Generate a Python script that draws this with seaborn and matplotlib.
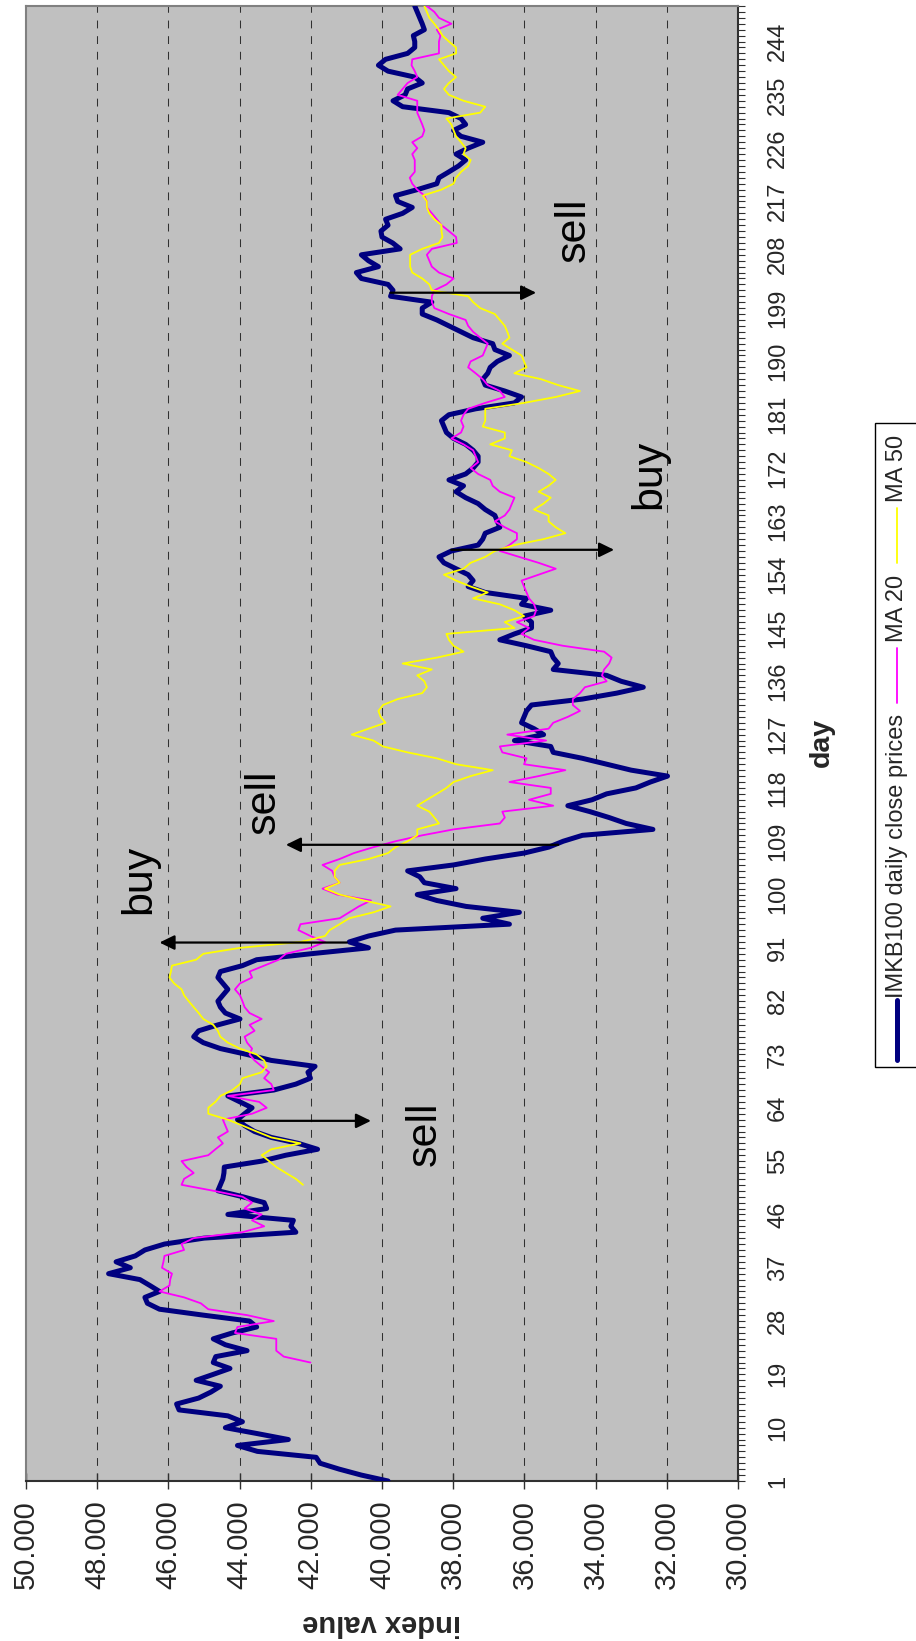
import matplotlib
matplotlib.use("Agg")
import matplotlib.pyplot as plt
from matplotlib.lines import Line2D
from matplotlib.patches import Rectangle
import seaborn as sns
import numpy as np

# ---------------- data ----------------
close_days = list(range(1, 251))
close_values = [
    39830, 40580, 41200, 41740, 41850, 43500, 44060, 42630, 43500, 44400,
    43920, 44330, 45700, 45770, 45150, 44810, 44540, 45220, 44740, 44270,
    44740, 44670, 43790, 44400, 44740, 44200, 43520, 43720, 45020, 46250,
    46590, 46660, 46250, 46520, 46800, 47680, 47070, 47470, 46930, 46660,
    46110, 45000, 42420, 42560, 42490, 44330, 43240, 43310, 43920, 44610,
    44540, 44470, 44440, 44430, 43380, 42700, 41810, 42350, 43110, 43580,
    43860, 44060, 43860, 43650, 43990, 44330, 43040, 42420, 42010, 42080,
    41880, 43110, 43790, 44540, 45020, 45290, 45150, 44610, 43990, 44400,
    44540, 44610, 44470, 44330, 44470, 44610, 44540, 43920, 43520, 42010,
    40380, 40920, 40380, 39620, 36420, 37170, 36140, 37640, 38460, 39010,
    37920, 38810, 38940, 39280, 37990, 37100, 36010, 35320, 34910, 34370,
    32390, 33140, 33620, 34160, 34780, 34100, 33690, 32870, 32460, 31980,
    33000, 33690, 34370, 35190, 35260, 36280, 35460, 35730, 36080, 36010,
    35940, 35800, 34370, 33410, 32660, 33280, 33690, 35190, 35050, 35190,
    35260, 35940, 36690, 36280, 35800, 35800, 36010, 35260, 36080, 35940,
    37100, 37580, 37440, 37580, 37920, 38260, 38400, 38050, 37300, 37170,
    37100, 36690, 36760, 36830, 37100, 37300, 37650, 37920, 37710, 38120,
    37650, 37440, 37300, 37300, 37440, 37650, 37990, 38190, 38260, 38330,
    38120, 37370, 36280, 36080, 36550, 37100, 37170, 37030, 36960, 36760,
    36420, 36830, 36890, 37440, 37780, 38120, 38460, 38870, 38870, 38600,
    39760, 39690, 39830, 40580, 40720, 40100, 40380, 40580, 39490, 39700,
    40000, 40030, 39830, 39900, 39420, 39150, 39560, 39620, 39010, 38460,
    38400, 38120, 37850, 37650, 37920, 37580, 37170, 37780, 37990, 37650,
    37780, 38120, 39420, 39690, 39350, 39280, 38870, 39080, 39830, 40100,
    39900, 39280, 39080, 39080, 39120, 38810, 38870, 38940, 39010, 39080,
]

ma20_days = list(range(21, 251))
ma20_values = [
    42010, 42760, 42970, 42970, 42970, 44130, 44060, 43040, 43790, 44880,
    45090, 45560, 46250, 45970, 45950, 45900, 46180, 46140, 46110, 45560,
    45630, 45290, 43920, 43310, 43650, 43380, 43860, 43650, 43920, 44740,
    45630, 45560, 45290, 45490, 45630, 44880, 44680, 44470, 44610, 44330,
    44400, 44470, 43650, 43240, 43450, 44330, 43040, 43110, 43310, 43170,
    43380, 43580, 43720, 43650, 43790, 43860, 43580, 43720, 43380, 43720,
    43860, 43920, 43990, 44130, 43990, 43650, 43720, 43310, 42900, 42700,
    42010, 41600, 42010, 42350, 42290, 41190, 40920, 40650, 40310, 41260,
    41670, 41190, 41330, 41400, 41670, 41190, 40790, 40240, 39620, 38870,
    37990, 36690, 36550, 36620, 35190, 35870, 35260, 35260, 36420, 35600,
    34850, 36010, 35940, 36620, 36690, 35390, 36480, 35320, 35190, 34780,
    34440, 34640, 34640, 34440, 34300, 33690, 33820, 33760, 33620, 33550,
    33760, 34920, 35730, 36080, 35870, 36210, 35730, 35670, 35730, 35870,
    35940, 36010, 36080, 35600, 35120, 35600, 36140, 36690, 36420, 36210,
    36210, 36550, 36830, 36550, 36420, 36350, 36280, 36690, 36890, 36960,
    37300, 37510, 37300, 37370, 37440, 37710, 38050, 37780, 37710, 37780,
    37710, 37580, 37100, 36550, 36690, 37030, 37170, 37370, 37580, 37510,
    37170, 37100, 37030, 37240, 37440, 37580, 37650, 38120, 38530, 38600,
    38600, 38530, 38190, 37990, 38400, 38600, 38670, 38740, 38600, 37900,
    37920, 38120, 38330, 38460, 38600, 38740, 38740, 38810, 39010, 39150,
    39220, 39080, 39080, 39080, 39150, 39010, 39150, 38870, 38810, 38870,
    38940, 39010, 39010, 39010, 39560, 39420, 39280, 39010, 39080, 39170,
    39150, 38400, 38400, 38400, 38360, 38460, 38050, 38400, 38530, 38740,
]

ma50_days = list(range(51, 251))
ma50_values = [
    42220, 42420, 42700, 42970, 43170, 43380, 43110, 42290, 43110, 43520,
    43920, 44330, 44880, 44880, 44680, 44540, 44200, 43990, 43920, 43380,
    43240, 43310, 43520, 43990, 44330, 44540, 44610, 44740, 45020, 45150,
    45290, 45430, 45560, 45630, 45840, 45970, 45930, 45900, 45220, 45020,
    43990, 42290, 41600, 41470, 41190, 40920, 40240, 39760, 40510, 41190,
    41600, 41190, 41330, 41330, 41190, 40380, 39830, 39620, 39280, 39010,
    39010, 38400, 38530, 38670, 39010, 38740, 38460, 38190, 37990, 37510,
    36890, 37920, 38460, 39280, 39970, 40240, 40850, 40380, 39900, 40040,
    40100, 39970, 39560, 38870, 38740, 38810, 39010, 38600, 39420, 38460,
    37710, 37990, 38120, 38190, 36280, 36550, 36010, 36280, 36690, 37440,
    37030, 37510, 37920, 38260, 37710, 37510, 37100, 36830, 36280, 35460,
    34850, 35120, 35320, 35320, 35730, 35460, 35260, 35600, 35320, 35120,
    35320, 35600, 35940, 36420, 36350, 36960, 36550, 36550, 37170, 37100,
    37100, 37100, 36010, 35120, 34440, 35050, 35530, 36280, 35940, 36010,
    36080, 36350, 36620, 36420, 36480, 36550, 36690, 36830, 37240, 37440,
    37580, 38600, 38670, 38870, 39150, 39210, 39210, 39210, 38870, 38400,
    38300, 38330, 38330, 38530, 38670, 38740, 38740, 38850, 38330, 37990,
    37920, 37780, 37580, 37510, 37710, 37650, 37780, 37920, 37990, 38050,
    38190, 37240, 37100, 37710, 38120, 38260, 38120, 37920, 38120, 38260,
    38400, 37920, 37920, 38120, 38300, 38400, 38530, 38670, 38740, 38810,
]

series_names = ["IMKB100 daily close prices", "MA 20", "MA 50"]
value_ticks = list(range(30000, 50001, 2000))
day_labels = [1, 10, 19, 28, 37, 46, 55, 64, 73, 82, 91, 100, 109, 118, 127,
              136, 145, 154, 163, 172, 181, 190, 199, 208, 217, 226, 235, 244]

# signal annotations: (text, day of arrow, arrow start value, arrow tip value, text day, text value)
signal_texts = ["sell", "buy", "sell", "buy", "sell"]
signal_arrow_days = [61.8, 91.9, 108.4, 158.2, 201.6]
signal_arrow_from = [44060, 40990, 35050, 38055, 39760]
signal_arrow_to = [40310, 46250, 42700, 33480, 35670]
signal_text_days = [59.6, 102.6, 115.7, 171.0, 212.2]
signal_text_values = [38800, 46830, 43310, 32490, 34600]

# ---------------- style ----------------
sns.set_style("white")
plt.rcParams["font.family"] = ["Liberation Sans", "DejaVu Sans"]

W, H = 916, 1641
fig = plt.figure(figsize=(W / 100, H / 100), dpi=100)
fig.patch.set_facecolor("white")

L, R, T, B = 26, 738, 6, 1481
ax = fig.add_axes([L / W, 1 - B / H, (R - L) / W, (B - T) / H])
ax.set_facecolor("#C0C0C0")

navy, magenta, yellow = "#000080", "#FF00FF", "#FFFF00"

for v in value_ticks[1:-1]:
    ax.axvline(v, color="#303030", lw=0.75, ls=(0, (7.5, 7.5)), zorder=1)

sns.lineplot(x=close_values, y=close_days, sort=False, estimator=None,
             color=navy, lw=3.6, ax=ax, legend=False, zorder=3,
             solid_capstyle="round", solid_joinstyle="round")
sns.lineplot(x=ma20_values, y=ma20_days, sort=False, estimator=None,
             color=magenta, lw=1.3, ax=ax, legend=False, zorder=4)
sns.lineplot(x=ma50_values, y=ma50_days, sort=False, estimator=None,
             color=yellow, lw=1.3, ax=ax, legend=False, zorder=5)

ax.set_xlim(50000, 30000)
ax.set_ylim(1, 250)
ax.set_xlabel("")
ax.set_ylabel("")

# value axis (bottom)
ax.set_xticks(value_ticks)
ax.set_xticklabels([f"{v / 1000:.3f}" for v in value_ticks], rotation=90,
                   fontsize=21)
ax.tick_params(axis="x", direction="inout", length=12, width=1.0,
               color="#303030", pad=8, bottom=True)

# day axis (right)
ax.yaxis.tick_right()
ax.set_yticks(close_days)
ax.set_yticklabels([str(d) if d in day_labels else "" for d in close_days],
                   rotation=90, fontsize=17, va="center")
ax.tick_params(axis="y", direction="out", length=5, width=0.8,
               color="#303030", pad=16, right=True, left=False)

for side in ["left", "top"]:
    ax.spines[side].set_color("#808080")
    ax.spines[side].set_linewidth(1.5)
for side in ["bottom", "right"]:
    ax.spines[side].set_color("#303030")
    ax.spines[side].set_linewidth(1.5)

# arrows and signal texts
for txt, d, v0, v1, td, tv in zip(signal_texts, signal_arrow_days,
                                  signal_arrow_from, signal_arrow_to,
                                  signal_text_days, signal_text_values):
    ax.annotate("", xy=(v1, d), xytext=(v0, d),
                arrowprops=dict(arrowstyle="-|>,head_length=0.45,head_width=0.22",
                                color="black", lw=1.6, shrinkA=0, shrinkB=0,
                                mutation_scale=20), zorder=6)
    ax.text(tv, td, txt, rotation=90, fontsize=31, ha="center", va="center",
            color="black", zorder=7)

# axis titles
fig.text(822 / W, 1 - 742 / H, "day", rotation=90, fontsize=20.5,
         fontweight="bold", ha="center", va="center")
fig.text((L + R) / 2 / W, 1 - 1623 / H, "index value", rotation=180,
         fontsize=21, fontweight="bold", ha="center", va="center")

# legend (rotated, built by hand)
fig.patches.append(Rectangle((875 / W, 1 - 1067 / H), 60 / W, (1067 - 423) / H,
                             transform=fig.transFigure, facecolor="white",
                             edgecolor="black", lw=1.0))
leg_x = 897 / W
leg_lines = [(1000, 1060, navy, 3.6), (648, 703, magenta, 1.3), (508, 563, yellow, 1.3)]
for y0, y1, c, lw in leg_lines:
    fig.lines.append(Line2D([leg_x, leg_x], [1 - y0 / H, 1 - y1 / H],
                            transform=fig.transFigure, color=c, lw=lw))
leg_text_y = [856, 608, 468]
for name, ty in zip(series_names, leg_text_y):
    fig.text(leg_x, 1 - ty / H, name, rotation=90, fontsize=17,
             ha="center", va="center")

fig.savefig("out.png", dpi=100, facecolor="white")
